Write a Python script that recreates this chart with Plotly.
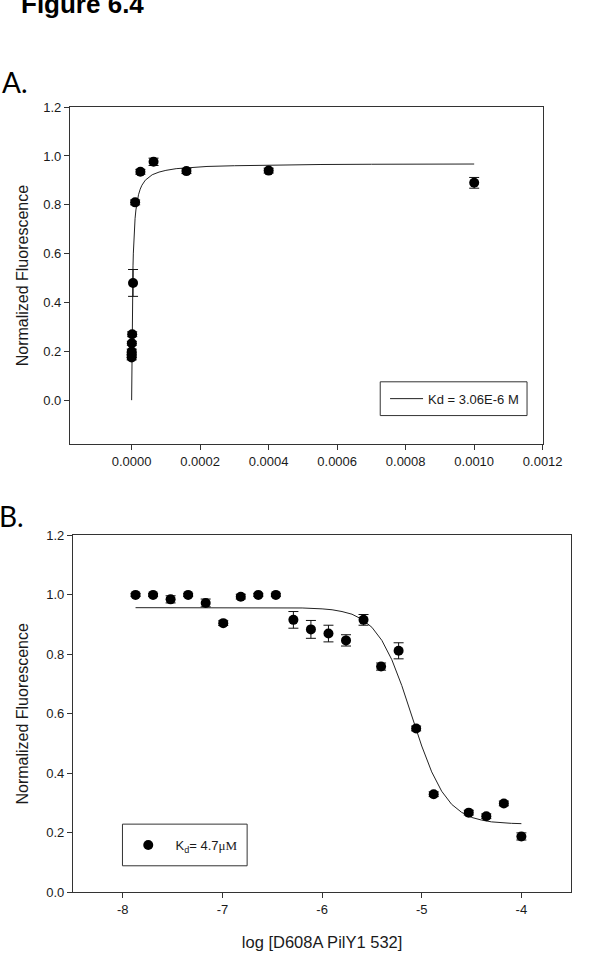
import plotly.graph_objects as go

W, H = 597, 968

# ---------------- Panel A data ----------------
conc_A = [1.0e-3, 4.0e-4, 1.6e-4, 6.4e-5, 2.56e-5, 1.024e-5, 4.1e-6, 1.64e-6, 6.55e-7, 2.62e-7, 1.05e-7, 4.2e-8]
fluor_A = [0.890, 0.940, 0.938, 0.976, 0.935, 0.810, 0.480, 0.270, 0.233, 0.199, 0.185, 0.175]
err_A = [0.022, 0.010, 0.010, 0.015, 0.010, 0.010, 0.055, 0.010, 0.008, 0.010, 0.010, 0.010]

# fit curve (Kd = 3.06E-6 M)
fit_x_A = [0, 5e-7, 1e-6, 2e-6, 3e-6, 4e-6, 5e-6, 6e-6, 8e-6, 1e-5, 1.25e-5, 1.5e-5, 2e-5, 2.5e-5,
           3e-5, 4e-5, 5e-5, 6e-5, 8e-5, 1e-4, 1.3e-4, 1.7e-4, 2.2e-4, 3e-4, 4e-4, 5.5e-4, 7e-4, 8.5e-4, 1e-3]
fit_y_A = [0.0, 0.136, 0.239, 0.383, 0.480, 0.550, 0.602, 0.642, 0.702, 0.743, 0.779, 0.806, 0.841, 0.864,
           0.880, 0.901, 0.914, 0.923, 0.934, 0.941, 0.948, 0.953, 0.957, 0.960, 0.963, 0.965, 0.966, 0.9665, 0.967]

xticks_A = [0.0, 0.0002, 0.0004, 0.0006, 0.0008, 0.0010, 0.0012]
xticklabels_A = ["0.0000", "0.0002", "0.0004", "0.0006", "0.0008", "0.0010", "0.0012"]
yticks = [0.0, 0.2, 0.4, 0.6, 0.8, 1.0, 1.2]
yticklabels = ["0.0", "0.2", "0.4", "0.6", "0.8", "1.0", "1.2"]

# ---------------- Panel B data ----------------
logc_B = [-7.872, -7.696, -7.52, -7.344, -7.168, -6.992, -6.816, -6.64, -6.464, -6.288, -6.112,
          -5.936, -5.76, -5.584, -5.408, -5.232, -5.056, -4.88, -4.528, -4.352, -4.176, -4.0]
fluor_B = [1.000, 1.000, 0.985, 1.000, 0.973, 0.905, 0.994, 1.000, 1.000, 0.916, 0.884,
           0.870, 0.847, 0.916, 0.759, 0.812, 0.551, 0.330, 0.268, 0.256, 0.299, 0.188]
err_B = [0.005, 0.005, 0.012, 0.005, 0.013, 0.008, 0.008, 0.005, 0.005, 0.028, 0.030,
         0.028, 0.019, 0.018, 0.012, 0.027, 0.008, 0.008, 0.008, 0.008, 0.008, 0.012]

fit_x_B = [-7.872, -7.0, -6.5, -6.2, -6.0, -5.9, -5.8, -5.7, -5.6, -5.5, -5.4, -5.3, -5.2,
           -5.1, -5.0, -4.9, -4.8, -4.7, -4.6, -4.5, -4.4, -4.3, -4.2, -4.1, -4.0]
fit_y_B = [0.957, 0.957, 0.957, 0.956, 0.953, 0.950, 0.944, 0.935, 0.918, 0.891, 0.847, 0.782, 0.695,
           0.594, 0.492, 0.405, 0.340, 0.296, 0.269, 0.252, 0.243, 0.237, 0.234, 0.232, 0.231]

xticks_B = [-8, -7, -6, -5, -4]
xticklabels_B = ["-8", "-7", "-6", "-5", "-4"]

SANS = "Liberation Sans, Arial, sans-serif"
TXT = "#1a1a1a"
AX = "#333333"


def px_x(p):
    return p / W


def px_y(p):
    return 1 - p / H


fig = go.Figure()

fig.add_trace(go.Scatter(
    x=fit_x_A, y=fit_y_A, mode="lines", line=dict(color="#222", width=1),
    name="Kd = 3.06E-6 M", xaxis="x", yaxis="y", legend="legend", showlegend=True))
fig.add_trace(go.Scatter(
    x=conc_A, y=fluor_A, mode="markers", marker=dict(color="#000", size=10),
    error_y=dict(type="data", array=err_A, visible=True, color="#111", thickness=1, width=5),
    xaxis="x", yaxis="y", showlegend=False))

fig.add_trace(go.Scatter(
    x=fit_x_B, y=fit_y_B, mode="lines", line=dict(color="#222", width=1),
    xaxis="x2", yaxis="y2", showlegend=False))
fig.add_trace(go.Scatter(
    x=logc_B, y=fluor_B, mode="markers", marker=dict(color="#000", size=10),
    error_y=dict(type="data", array=err_B, visible=True, color="#111", thickness=1, width=5),
    name="\u00a0\u00a0K<sub>d</sub>= 4.7<span style='font-family:Liberation Serif, Times New Roman, serif'>μM</span>",
    xaxis="x2", yaxis="y2", legend="legend2", showlegend=True))

axis_common = dict(showline=True, mirror=True, linecolor=AX, linewidth=1, ticks="outside",
                   ticklen=5, tickcolor=AX, showgrid=False, zeroline=False,
                   tickfont=dict(family=SANS, size=13, color=TXT))

# legend frames (boxes around the legends), in pixels
boxA = (393.4, 380.7, 545.3, 415.0)
boxB = (126.7, 830.0, 255.7, 872.3)

shapes = []
for (x0, y0, x1, y1) in (boxA, boxB):
    shapes.append(dict(type="rect", xref="paper", yref="paper",
                       x0=px_x(x0), x1=px_x(x1), y0=px_y(y1), y1=px_y(y0),
                       line=dict(color=AX, width=1), fillcolor="white", layer="above"))

fig.update_layout(
    width=W, height=H, autosize=False,
    margin=dict(l=0, r=0, t=0, b=0),
    paper_bgcolor="white", plot_bgcolor="white",
    xaxis=dict(domain=[px_x(72.4), px_x(561.5)], range=[-0.00018, 0.0012], anchor="y",
               tickvals=xticks_A, ticktext=xticklabels_A, **axis_common),
    yaxis=dict(domain=[px_y(444), px_y(101.7)], range=[-0.18, 1.2], anchor="x",
               tickvals=yticks, ticktext=yticklabels,
               title=dict(text="Normalized Fluorescence", font=dict(family=SANS, size=16, color=TXT), standoff=10),
               **axis_common),
    xaxis2=dict(domain=[px_x(75.5), px_x(591)], range=[-8.5, -3.5], anchor="y2",
                tickvals=xticks_B, ticktext=xticklabels_B,
                title=dict(text="log [D608A PilY1 532]", font=dict(family=SANS, size=16.5, color=TXT), standoff=20),
                **axis_common),
    yaxis2=dict(domain=[px_y(899.3), px_y(536.7)], range=[0, 1.2], anchor="x2",
                tickvals=yticks, ticktext=yticklabels,
                title=dict(text="Normalized Fluorescence", font=dict(family=SANS, size=16, color=TXT), standoff=13),
                **axis_common),
    legend=dict(x=px_x(boxA[0] + 5), y=px_y((boxA[1] + boxA[3]) / 2), xanchor="left", yanchor="middle",
                borderwidth=0, bgcolor="rgba(0,0,0,0)", itemwidth=33,
                font=dict(family=SANS, size=13, color=TXT)),
    legend2=dict(x=px_x(boxB[0] + 6), y=px_y((boxB[1] + boxB[3]) / 2), xanchor="left", yanchor="middle",
                 borderwidth=0, bgcolor="rgba(0,0,0,0)", itemwidth=30,
                 font=dict(family=SANS, size=13, color=TXT)),
    shapes=shapes,
    annotations=[
        dict(text="<b>Figure 6.4</b>", x=px_x(20), y=px_y(-3), xref="paper", yref="paper",
             xanchor="left", yanchor="middle", showarrow=False,
             font=dict(family=SANS, size=26, color="#000")),
        dict(text="A.", x=px_x(0), y=px_y(76), xref="paper", yref="paper",
             xanchor="left", yanchor="middle", showarrow=False,
             font=dict(family="Lato, Open Sans, sans-serif", size=28, color="#000")),
        dict(text="B.", x=px_x(-3), y=px_y(517), xref="paper", yref="paper",
             xanchor="left", yanchor="middle", showarrow=False,
             font=dict(family="Lato, Open Sans, sans-serif", size=28, color="#000")),
    ],
)

fig.write_html("out.html")
